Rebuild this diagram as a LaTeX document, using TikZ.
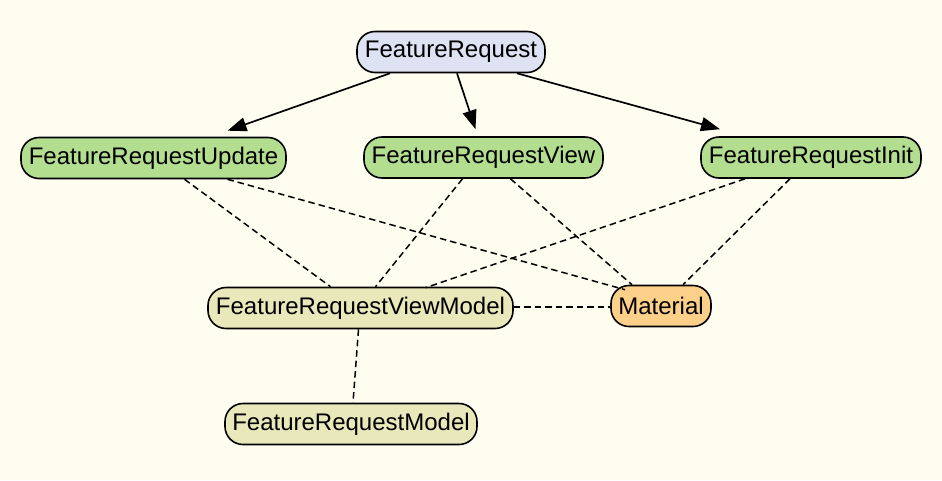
\documentclass[tikz,border=0pt]{standalone}
\usepackage{fontspec}
\setmainfont{Liberation Sans}
\usetikzlibrary{arrows.meta,calc}
\definecolor{bgc}{RGB}{255,253,240}
\definecolor{blueish}{RGB}{221,227,242}
\definecolor{greenish}{RGB}{179,221,143}
\definecolor{khaki}{RGB}{232,232,186}
\definecolor{orangeish}{RGB}{253,208,138}
\tikzset{
  box/.style={draw=black, line width=1.6pt, rounded corners=18pt, minimum height=41pt,
    inner sep=0pt, font=\fontsize{24}{28}\selectfont, text=black},
  dep/.style={line width=1.5pt, dash pattern=on 6.5pt off 4pt},
  arr/.style={line width=1.7pt, -{Triangle[length=19pt,width=14pt]}},
}
\begin{document}
\begin{tikzpicture}[x=1pt,y=-1pt]
\fill[bgc] (0,0) rectangle (942,480);
\useasboundingbox (0,0) rectangle (942,480);
\node[box, fill=blueish, minimum width=188pt] (fr) at (451,52) {FeatureRequest};
\node[box, fill=greenish, minimum width=265pt] (fru) at (153.5,158) {FeatureRequestUpdate};
\node[box, fill=greenish, minimum width=239pt] (frv) at (483.5,157.5) {FeatureRequestView};
\node[box, fill=greenish, minimum width=220pt] (fri) at (811,157.5) {FeatureRequestInit};
\node[box, fill=khaki, minimum width=305pt] (fvm) at (360.5,308) {FeatureRequestViewModel};
\node[box, fill=orangeish, minimum width=100pt] (mat) at (661,306) {Material};
\node[box, fill=khaki, minimum width=252pt] (frm) at (351,424) {FeatureRequestModel};

\draw[arr] ($(fr.south)+(-61,0)$) -- ($(fru.north)+(74,-6)$);
\draw[arr] ($(fr.south)+(6,0)$) -- ($(frv.north)+(-8,-7)$);
\draw[arr] ($(fr.south)+(66,0)$) -- ($(fri.north)+(-91,-7)$);

\draw[dep] ($(fru.south)+(31,0)$) -- ($(fvm.north)+(-30,0)$);
\draw[dep] ($(fru.south)+(74,0)$) -- ($(mat.north)+(-36,5)$);
\draw[dep] ($(frv.south)+(-21,0)$) -- ($(fvm.north)+(15,0)$);
\draw[dep] ($(frv.south)+(27,0)$) -- ($(mat.north)+(-29,0)$);
\draw[dep] ($(fri.south)+(-66,0)$) -- ($(fvm.north)+(65,1)$);
\draw[dep] ($(fri.south)+(-21,0)$) -- ($(mat.north)+(22,0)$);
\draw[dep] ($(fvm.east)+(0,-1)$) -- ($(mat.west)+(0,1)$);
\draw[dep] ($(fvm.south)+(-2,0)$) -- ($(frm.north)+(2,0)$);
\end{tikzpicture}
\end{document}
